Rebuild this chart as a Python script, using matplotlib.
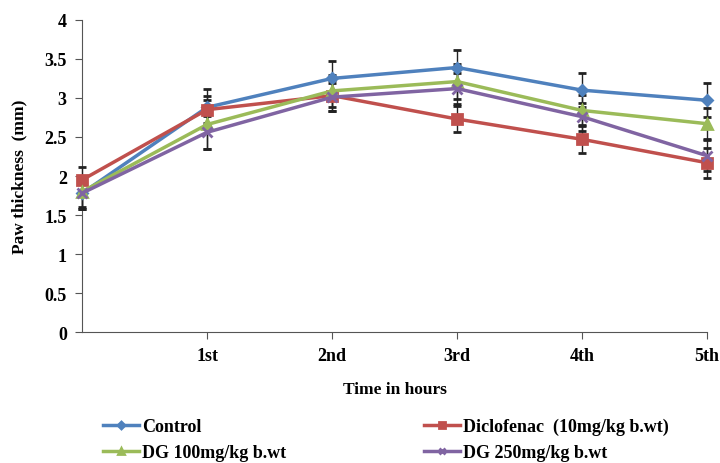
from matplotlib import pyplot as plt
import numpy as np

hours = ['', '1st', '2nd', '3rd', '4th', '5th']

control = [1.78, 2.88, 3.25, 3.39, 3.10, 2.97]
control_err = [0.20, 0.24, 0.22, 0.23, 0.22, 0.22]
diclo = [1.95, 2.85, 3.03, 2.73, 2.47, 2.17]
diclo_err = [0.17, 0.17, 0.20, 0.17, 0.18, 0.19]
dg100 = [1.80, 2.66, 3.09, 3.21, 2.84, 2.67]
dg100_err = [0.20, 0.31, 0.20, 0.22, 0.20, 0.20]
dg250 = [1.78, 2.56, 3.01, 3.12, 2.76, 2.26]
dg250_err = [0.20, 0.21, 0.18, 0.20, 0.18, 0.20]

plt.rcParams['font.family'] = ['Liberation Serif', 'DejaVu Serif']
plt.rcParams['font.weight'] = 'bold'

x = np.arange(len(hours))

fig = plt.figure(figsize=(7.2, 4.64), dpi=100)
ax = fig.add_axes([0.114, 0.282, 0.868, 0.673])

series = [
    (control, control_err, '#4F81BD', 'D', 'Control', 5),
    (diclo, diclo_err, '#C0504D', 's', 'Diclofenac  (10mg/kg b.wt)', 7),
    (dg100, dg100_err, '#9BBB59', '^', 'DG 100mg/kg b.wt', 7),
    (dg250, dg250_err, '#8064A2', 'x', 'DG 250mg/kg b.wt', 7),
]
lines = []
for vals, err, col, mk, lab, ms in series:
    c = ax.errorbar(x, vals, yerr=err, color=col, marker=mk, ms=ms, lw=2.5,
                    mew=2, ecolor='#222222', elinewidth=1, capsize=3, capthick=1,
                    label=lab, clip_on=False, zorder=3)
    lines.append(c[0])

ax.set_xlim(0, 5)
ax.set_ylim(0, 4)
ax.set_yticks(np.arange(0, 4.01, 0.5))
ax.set_yticklabels(['0', '0.5', '1', '1.5', '2', '2.5', '3', '3.5', '4'])
ax.set_xticks(x[1:])
ax.set_xticklabels(hours[1:])
ax.tick_params(labelsize=13, length=5, color='#555555', pad=6)
for s in ['top', 'right']:
    ax.spines[s].set_visible(False)
for s in ['left', 'bottom']:
    ax.spines[s].set_color('#555555')

ax.set_ylabel('Paw thickness  (mm)', fontsize=12.5, fontweight='bold', labelpad=12)
ax.set_xlabel('Time in hours', fontsize=12.5, fontweight='bold', labelpad=12)

order = [0, 2, 1, 3]
fig.legend([lines[i] for i in order], [series[i][4] for i in order],
           loc='upper left', bbox_to_anchor=(0.12, 0.132), ncol=2, frameon=False,
           fontsize=13, columnspacing=7.6, handlelength=2.0, handletextpad=0.2,
           labelspacing=0.5, markerscale=0.7)

plt.savefig('out.png')
